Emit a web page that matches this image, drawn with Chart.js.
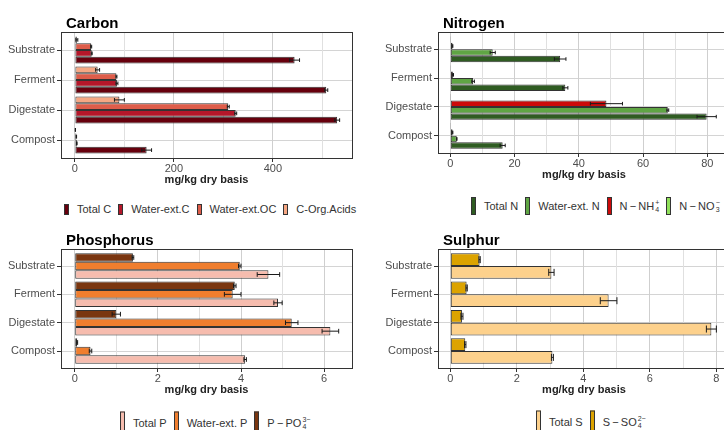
<!DOCTYPE html>
<html>
<head>
<meta charset="utf-8">
<script src="https://cdn.jsdelivr.net/npm/chart.js@4.4.1/dist/chart.umd.min.js"></script>
<style>
html, body { margin: 0; padding: 0; background: #fff; width: 724px; height: 430px; overflow: hidden; }
body { position: relative; font-family: 'Liberation Sans', Arial, sans-serif; }
.panel { position: absolute; }
.legend { position: absolute; display: flex; align-items: center; font-size: 11px; color: #333; white-space: nowrap; transform: translateY(-50%); }
.item { display: flex; align-items: center; margin-right: 7px; }
.key { display: inline-block; width: 3px; border: 1px solid #333; margin-right: 8px; }
.ss { display: inline-flex; flex-direction: column; font-size: 7px; line-height: 7px; margin-left: 1px; }
</style>
</head>
<body>
<div class="panel" style="left:0;top:0;width:362px;height:187px"><canvas id="carbon"></canvas></div>
<div class="panel" style="left:362px;top:0;width:372px;height:182px"><canvas id="nitrogen"></canvas></div>
<div class="panel" style="left:0;top:217px;width:362px;height:180px"><canvas id="phosphorus"></canvas></div>
<div class="panel" style="left:362px;top:217px;width:372px;height:180px"><canvas id="sulphur"></canvas></div>
<script>
const samples = ['Substrate', 'Ferment', 'Digestate', 'Compost'];

// Carbon
const carbonLabels = ['Total C', 'Water-ext.C', 'Water-ext.OC', 'C-Org.Acids'];
const carbonColors = ['#67000d', '#b5172a', '#de5d4a', '#f6a783'];
const totalC = [444, 508, 530, 145];
const totalCErr = [10, 3, 5, 10];
const waterC = [34, 85, 325, 4];
const waterCErr = [1, 2, 2, 0.5];
const waterOC = [33, 84, 310, 3];
const waterOCErr = [1, 1, 2, 0.5];
const orgAcidsC = [4, 46, 90, 1];
const orgAcidsCErr = [2, 4, 10, 0.3];
const carbonTicks = [0, 100, 200, 300, 400, 500];
const carbonTickLabels = ['0', '', '200', '', '400', ''];

// Nitrogen
const nitrogenLabels = ['Total N', 'Water-ext. N', 'N\u2009\u2212\u2009NH_4^+', 'N\u2009\u2212\u2009NO_3^\u2212'];
const nitrogenColors = ['#2f5c22', '#5fa544', '#cc0a0a', '#90e05a'];
const totalN = [34.2, 35.8, 79.8, 16.3];
const totalNErr = [1.8, 0.8, 3, 0.8];
const waterN = [13.2, 7.1, 67.7, 2.0];
const waterNErr = [0.8, 0.4, 0.3, 0.1];
const nh4N = [0.7, 0.8, 48.6, 0.7];
const nh4NErr = [0.1, 0.2, 5, 0.1];
const no3N = [0.05, 0.05, 0.05, 0.05];
const no3NErr = [0, 0, 0, 0];
const nitrogenTicks = [0, 10, 20, 30, 40, 50, 60, 70, 80];
const nitrogenTickLabels = ['0', '', '20', '', '40', '', '60', '', '80'];

// Phosphorus
const phosphorusLabels = ['Total P', 'Water-ext. P', 'P\u2009\u2212\u2009PO_4^3\u2212'];
const phosphorusColors = ['#f6bcae', '#f07e2e', '#7a3610'];
const totalP = [4.66, 4.89, 6.15, 4.10];
const totalPErr = [0.27, 0.1, 0.2, 0.03];
const waterP = [3.97, 3.80, 5.22, 0.38];
const waterPErr = [0.03, 0.2, 0.15, 0.03];
const po4P = [1.40, 3.85, 1.00, 0.06];
const po4PErr = [0.02, 0.03, 0.1, 0.01];
const phosphorusTicks = [0, 1, 2, 3, 4, 5, 6];
const phosphorusTickLabels = ['0', '', '2', '', '4', '', '6'];

// Sulphur
const sulphurLabels = ['Total S', 'S\u2009\u2212\u2009SO_4^2\u2212'];
const sulphurColors = ['#fdd18c', '#dca300'];
const totalS = [3.04, 4.76, 7.85, 3.07];
const totalSErr = [0.08, 0.25, 0.15, 0.03];
const so4S = [0.88, 0.49, 0.35, 0.45];
const so4SErr = [0.02, 0.02, 0.03, 0.02];
const sulphurTicks = [0, 1, 2, 3, 4, 5, 6, 7, 8];
const sulphurTickLabels = ['0', '', '2', '', '4', '', '6', '', '8'];

const FONT = "'Liberation Sans', Arial, sans-serif";
Chart.defaults.font.family = FONT;
Chart.defaults.animation = false;

// error bars + panel frame + panel title
const panelExtras = {
    id: 'panelExtras',
    afterDatasetsDraw(chart) {
        const ctx = chart.ctx;
        const xs = chart.scales.x;
        ctx.save();
        ctx.strokeStyle = '#1a1a1a';
        ctx.lineWidth = 1;
        chart.data.datasets.forEach((ds, i) => {
            chart.getDatasetMeta(i).data.forEach((bar, j) => {
                let v = ds.data[j].x, e = ds.errors[j];
                if (!e) return;
                let x1 = xs.getPixelForValue(v - e);
                let x2 = xs.getPixelForValue(v + e);
                let h = bar.height * 0.55;
                ctx.beginPath();
                ctx.moveTo(x1, bar.y); ctx.lineTo(x2, bar.y);
                ctx.moveTo(x1, bar.y - h / 2); ctx.lineTo(x1, bar.y + h / 2);
                ctx.moveTo(x2, bar.y - h / 2); ctx.lineTo(x2, bar.y + h / 2);
                ctx.stroke();
            });
        });
        ctx.restore();
    },
    afterDraw(chart, args, opts) {
        const ctx = chart.ctx;
        const a = chart.chartArea;
        ctx.save();
        ctx.strokeStyle = '#333';
        ctx.lineWidth = 1;
        ctx.strokeRect(Math.round(a.left) + 0.5, Math.round(a.top) + 0.5,
            Math.round(a.right - a.left), Math.round(a.bottom - a.top));
        ctx.font = 'bold 15px ' + FONT;
        ctx.fillStyle = '#000';
        ctx.fillText(opts.title, a.left + 5, a.top - 4);
        ctx.restore();
    }
};

function makePanel(id, cfg) {
    let datasets = cfg.labels.map((label, i) => ({
        label: label,
        data: cfg.values[i].map((v, j) => ({ x: v, y: j + 1 })),
        errors: cfg.errors[i],
        backgroundColor: cfg.colors[i],
        borderColor: '#333',
        borderWidth: 1,
        borderSkipped: false,
        categoryPercentage: 0.9,
        barPercentage: 1.0
    })).reverse(); // first legend entry sits at the bottom of each group

    return new Chart(document.getElementById(id), {
        type: 'bar',
        data: { datasets: datasets },
        plugins: [panelExtras],
        options: {
            indexAxis: 'y',
            responsive: true,
            maintainAspectRatio: false,
            layout: { padding: { top: 32, right: cfg.rightPad, left: 0, bottom: 0 } },
            plugins: {
                legend: { display: false },
                tooltip: { enabled: false },
                panelExtras: { title: cfg.title }
            },
            scales: {
                y: {
                    type: 'linear',
                    reverse: true,
                    offset: false,
                    min: 0.4,
                    max: 4.6,
                    afterBuildTicks: s => { s.ticks = samples.map((c, i) => ({ value: i + 1 })); },
                    afterFit: s => { s.width = cfg.yWidth; },
                    ticks: {
                        callback: v => samples[v - 1],
                        color: '#4d4d4d',
                        font: { size: 11 },
                        padding: 2,
                        autoSkip: false
                    },
                    grid: { offset: false, color: '#d4d4d4', tickColor: '#333', tickLength: 4 },
                    border: { display: false }
                },
                x: {
                    type: 'linear',
                    min: cfg.min,
                    max: cfg.max,
                    afterBuildTicks: s => { s.ticks = cfg.ticks.map(v => ({ value: v })); },
                    afterFit: s => { s.height = 29; },
                    ticks: {
                        callback: (v, i) => cfg.tickLabels[i],
                        color: '#4d4d4d',
                        font: { size: 11 },
                        padding: 0,
                        maxRotation: 0,
                        autoSkip: false
                    },
                    grid: {
                        color: c => cfg.tickLabels[c.index] ? '#cfcfcf' : '#e0e0e0',
                        tickColor: c => cfg.tickLabels[c.index] ? '#333' : 'rgba(0,0,0,0)',
                        tickLength: 4
                    },
                    title: {
                        display: true,
                        text: 'mg/kg dry basis',
                        color: '#222',
                        font: { size: 11, weight: 'bold' },
                        padding: 0
                    },
                    border: { display: false }
                }
            }
        }
    });
}

function makeLegend(left, top, labels, colors, keyHeight) {
    let box = document.createElement('div');
    box.className = 'legend';
    box.style.left = left + 'px';
    box.style.top = top + 'px';
    labels.forEach((label, i) => {
        let item = document.createElement('span');
        item.className = 'item';
        let key = document.createElement('span');
        key.className = 'key';
        key.style.height = keyHeight + 'px';
        key.style.background = colors[i];
        item.appendChild(key);
        let m = label.match(/^(.*)_(\w)\^(.+)$/);
        let text = document.createElement('span');
        if (m) {
            text.textContent = m[1];
            let ss = document.createElement('span');
            ss.className = 'ss';
            let sup = document.createElement('span');
            sup.textContent = m[3];
            let sub = document.createElement('span');
            sub.textContent = m[2];
            ss.appendChild(sup);
            ss.appendChild(sub);
            item.appendChild(text);
            item.appendChild(ss);
        } else {
            text.textContent = label;
            item.appendChild(text);
        }
        box.appendChild(item);
    });
    document.body.appendChild(box);
}

makePanel('carbon', {
    title: 'Carbon', labels: carbonLabels, colors: carbonColors,
    values: [totalC, waterC, waterOC, orgAcidsC],
    errors: [totalCErr, waterCErr, waterOCErr, orgAcidsCErr],
    min: -28, max: 560, ticks: carbonTicks, tickLabels: carbonTickLabels,
    yWidth: 61, rightPad: 10
});
makePanel('nitrogen', {
    title: 'Nitrogen', labels: nitrogenLabels, colors: nitrogenColors,
    values: [totalN, waterN, nh4N, no3N],
    errors: [totalNErr, waterNErr, nh4NErr, no3NErr],
    min: -3.83, max: 87.07, ticks: nitrogenTicks, tickLabels: nitrogenTickLabels,
    yWidth: 76, rightPad: 4
});
makePanel('phosphorus', {
    title: 'Phosphorus', labels: phosphorusLabels, colors: phosphorusColors,
    values: [totalP, waterP, po4P],
    errors: [totalPErr, waterPErr, po4PErr],
    min: -0.33, max: 6.67, ticks: phosphorusTicks, tickLabels: phosphorusTickLabels,
    yWidth: 61, rightPad: 10
});
makePanel('sulphur', {
    title: 'Sulphur', labels: sulphurLabels, colors: sulphurColors,
    values: [totalS, so4S],
    errors: [totalSErr, so4SErr],
    min: -0.37, max: 8.41, ticks: sulphurTicks, tickLabels: sulphurTickLabels,
    yWidth: 76, rightPad: 4
});

makeLegend(64, 209, carbonLabels, carbonColors, 9);
makeLegend(471, 206, nitrogenLabels, nitrogenColors, 16);
makeLegend(120, 422, phosphorusLabels, phosphorusColors, 19);
makeLegend(536, 421, sulphurLabels, sulphurColors, 19);
</script>
</body>
</html>
